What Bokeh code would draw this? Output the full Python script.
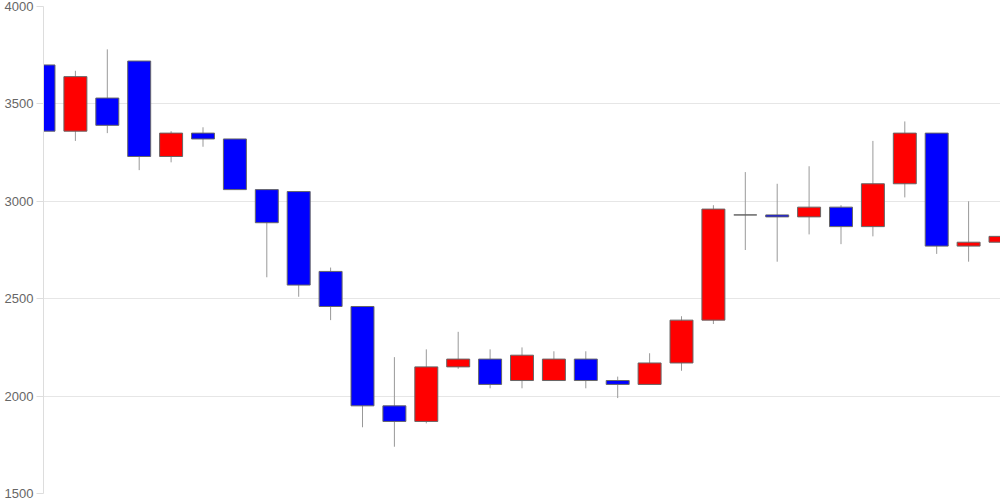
from bokeh.plotting import figure
from bokeh.models import Range1d, FixedTicker, ColumnDataSource
from bokeh.embed import file_html
from bokeh.resources import INLINE

opens  = [3700, 3360, 3530, 3720, 3230, 3350, 3320, 3060, 3050, 2640,
          2460, 1950, 1870, 2150, 2190, 2080, 2080, 2190, 2080, 2060,
          2170, 2390, 2930, 2930, 2920, 2970, 2870, 3090, 3350, 2770, 2790]
highs  = [3760, 3670, 3780, 3720, 3360, 3380, 3320, 3060, 3050, 2660,
          2460, 2200, 2240, 2330, 2240, 2250, 2230, 2230, 2100, 2220,
          2410, 2980, 3150, 3090, 3180, 2980, 3310, 3410, 3350, 3000, 2930]
lows   = [3260, 3310, 3350, 3160, 3200, 3280, 3060, 2610, 2510, 2390,
          1840, 1740, 1860, 2140, 2040, 2040, 2080, 2040, 1990, 2060,
          2130, 2370, 2750, 2690, 2830, 2780, 2820, 3020, 2730, 2690, 2750]
closes = [3360, 3640, 3390, 3230, 3350, 3320, 3060, 2890, 2570, 2460,
          1950, 1870, 2150, 2190, 2060, 2210, 2190, 2080, 2060, 2170,
          2390, 2960, 2930, 2920, 2970, 2870, 3090, 3350, 2770, 2790, 2820]
y_ticks = [1500, 2000, 2500, 3000, 3500, 4000]

idx = list(range(len(opens)))
tops = [max(o, c) for o, c in zip(opens, closes)]
bots = [min(o, c) for o, c in zip(opens, closes)]
cols = ["#ff0000" if c > o else ("#0000ff" if c < o else "#888888")
        for o, c in zip(opens, closes)]

src = ColumnDataSource(dict(x=idx, o=opens, h=highs, l=lows, c=closes,
                            top=tops, bot=bots, col=cols))

p = figure(width=1000, height=500, output_backend="svg", toolbar_location=None,
           x_range=Range1d(0, 30), y_range=Range1d(1500, 4000),
           min_border_left=43, min_border_right=0, min_border_top=6,
           min_border_bottom=7)
p.outline_line_color = None
p.background_fill_color = "white"
p.border_fill_color = "white"

p.segment(x0="x", y0="h", x1="x", y1="l", source=src,
          line_color="#999999", line_width=1)
p.vbar(x="x", width=0.72, top="top", bottom="bot", source=src,
       fill_color="col", line_color="#666666", line_width=1)

p.xaxis.visible = False
p.xgrid.visible = False
p.ygrid.grid_line_color = "#e6e6e6"
p.ygrid.grid_line_width = 1

p.yaxis.ticker = FixedTicker(ticks=y_ticks)
p.yaxis.minor_tick_line_color = None
p.yaxis.axis_line_color = "#dddddd"
p.yaxis.major_tick_line_color = "#dddddd"
p.yaxis.major_tick_out = 7
p.yaxis.major_tick_in = 0
p.yaxis.major_label_standoff = 3
p.yaxis.major_label_text_font = "Liberation Sans"
p.yaxis.major_label_text_font_size = "13px"
p.yaxis.major_label_text_color = "#666666"

open("out.html", "w").write(file_html(p, INLINE))
